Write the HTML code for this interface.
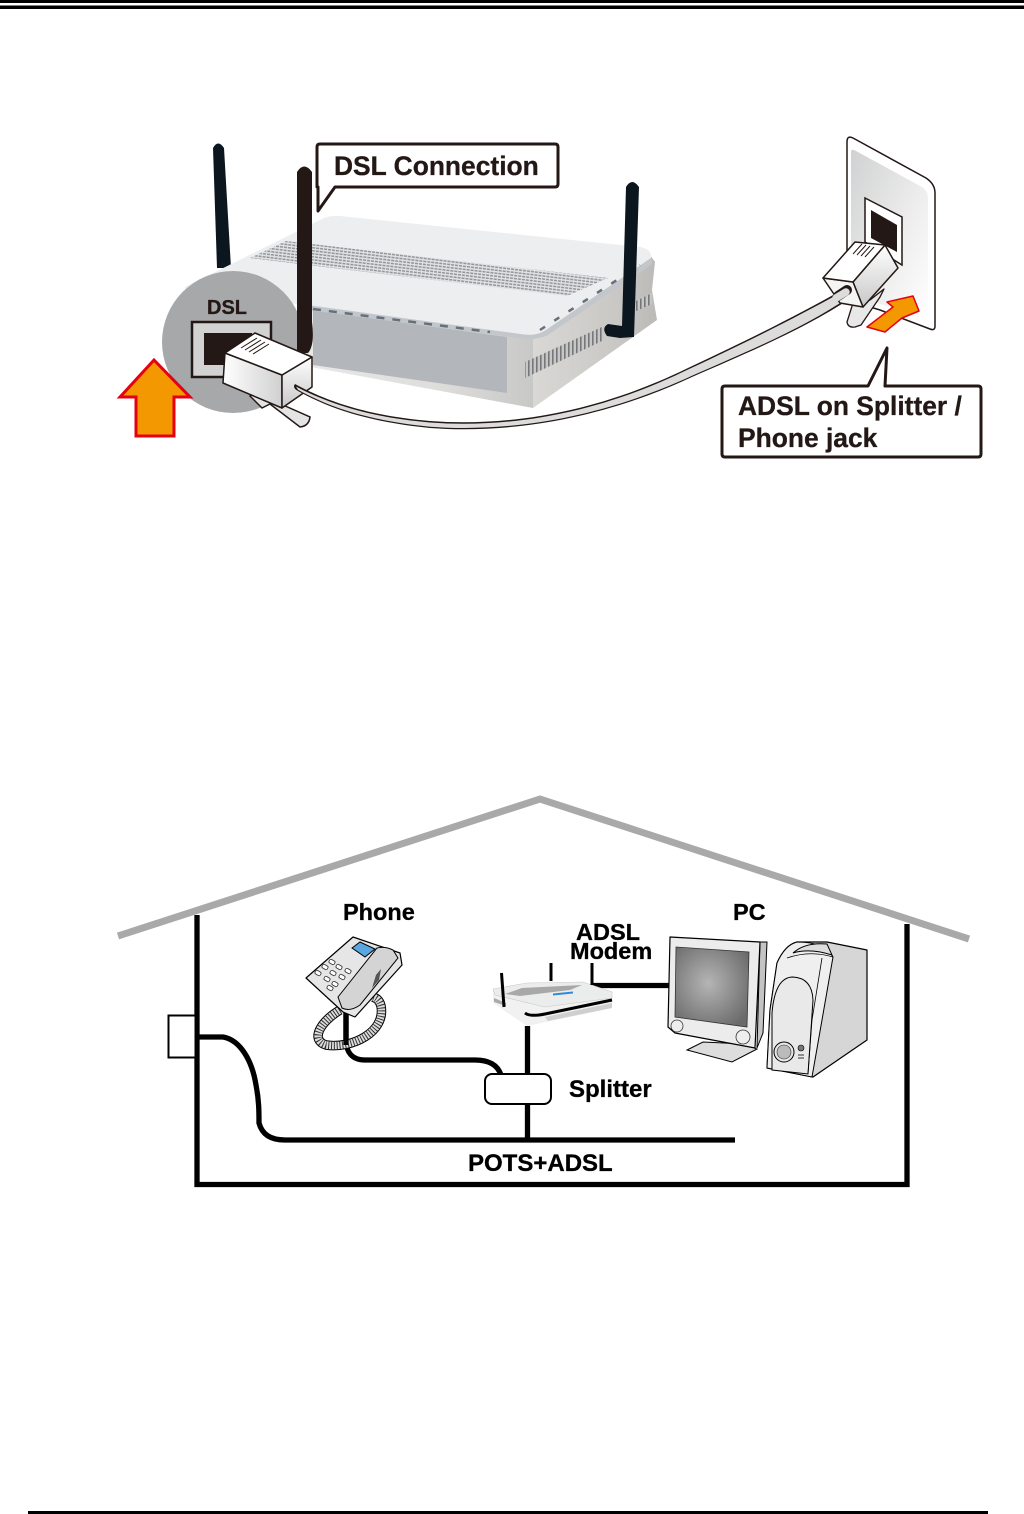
<!DOCTYPE html>
<html><head><meta charset="utf-8"><style>
html,body{margin:0;padding:0;background:#fff}
svg{display:block}
text{font-family:"Liberation Sans",Arial,sans-serif;font-weight:bold;stroke-width:.3}
</style></head><body>
<svg width="1024" height="1514" viewBox="0 0 1024 1514" xmlns="http://www.w3.org/2000/svg">
<defs>
<pattern id="hatch" width="4" height="3" patternUnits="userSpaceOnUse" patternTransform="rotate(7)">
<rect width="4" height="3" fill="#dfe1e3"/><rect x="0" y="0" width="3" height="1.500" fill="#94969a"/>
</pattern>
<pattern id="vent" width="4" height="10" patternUnits="userSpaceOnUse">
<rect width="4" height="10" fill="#c5c7c8"/><rect x="0" width="1.600" height="10" fill="#777"/>
</pattern>
<linearGradient id="side" x1="0" y1="0" x2="1" y2="0"><stop offset="0" stop-color="#d9d8d5"/><stop offset=".7" stop-color="#c9c7c4"/><stop offset="1" stop-color="#bcbab7"/></linearGradient>
<linearGradient id="low" x1="0" y1="0" x2="1" y2="0"><stop offset="0" stop-color="#e8e8e8"/><stop offset=".6" stop-color="#dedddc"/><stop offset="1" stop-color="#c8c8c6"/></linearGradient>
<linearGradient id="plate" x1="0" y1="0" x2="1" y2="1"><stop offset="0" stop-color="#d0d1d2"/><stop offset=".55" stop-color="#ececec"/><stop offset="1" stop-color="#fff"/></linearGradient>
<linearGradient id="pl" x1="0" y1="0" x2="1" y2="0"><stop offset="0" stop-color="#fff"/><stop offset="1" stop-color="#d0d0d0"/></linearGradient>
<linearGradient id="pr" x1="0" y1="0" x2="0" y2="1"><stop offset="0" stop-color="#fff"/><stop offset="1" stop-color="#c8c8c8"/></linearGradient>
<radialGradient id="scr" cx=".45" cy=".45" r=".65"><stop offset="0" stop-color="#b5b5b5"/><stop offset="1" stop-color="#6a6a6a"/></radialGradient>
</defs>

<!-- page rules -->
<rect x="0" y="0" width="1024" height="3" fill="#000"/>
<rect x="0" y="5.500" width="1024" height="3.500" fill="#000"/>
<rect x="28" y="1511" width="960" height="3" fill="#000"/>

<!-- back-left antenna -->
<path d="M213,148 Q218,139 224,148 L231,268 L217,268 Z" fill="#0c161e"/>

<!-- router body -->
<path d="M300,305 L533,335 L533,408 L300,365 Z" fill="url(#low)"/>
<path d="M533,335 L650,255 L655,262 L652,290 L657,320 L533,408 Z" fill="url(#side)"/>
<path d="M313,310 L507,337 L507,393 L313,365 Z" fill="#b3b7bc"/>
<path d="M185,287 L320,220 Q328,215 340,216 L640,247 Q652,249 651,258 L546,330 Q536,337 520,334 L313,306 L185,290 Z" fill="#eceef0"/>
<path d="M300,304 L520,334 Q536,337 546,330 L651,258 L652,264 L548,335 Q536,341 518,338 L300,309 Z" fill="#c3c7cb"/>
<path d="M250,258 L286,241 L608,278 L567,296 Z" fill="url(#hatch)"/>
<path d="M313,309 L490,332" stroke="#66707a" stroke-width="2.500" stroke-dasharray="8 8" fill="none"/>
<path d="M540,330 L640,265" stroke="#66707a" stroke-width="2.500" stroke-dasharray="6 11" fill="none"/>
<path d="M525,362 L604,326 L604,340 L525,378 Z" fill="url(#vent)"/>
<path d="M634,302 L652,293 L652,304 L634,312 Z" fill="url(#vent)"/>
<!-- right antenna -->
<path d="M626,187 Q632,177 639,187 L634,337 L620,338 L607,336 Q601,328 608,324 L622,326 Z" fill="#0c161e"/>

<!-- DSL magnifier -->
<circle cx="233" cy="342" r="71" fill="#a7a8aa"/>
<!-- centre antenna -->
<path d="M297,172 Q304,161 312,172 L312,322 Q315,345 308,353 L297,353 Z" fill="#231815"/>
<text x="207" y="314" font-size="20" fill="#231815" stroke="#231815">DSL</text>
<rect x="192" y="322" width="79" height="55" fill="#d2d2d2" stroke="#231815" stroke-width="2.500"/>
<rect x="204" y="333" width="48" height="32" fill="#231815"/>
<!-- plug -->
<path d="M250,396 L262,408 L270,404 L300,427 Q309,426 310,417 L283,405 L255,392 Z" fill="#e4e4e4" stroke="#231815" stroke-width="1.500"/>
<path d="M225,353 L282,375 L282,408 L223,383 Z" fill="url(#pl)" stroke="#231815" stroke-width="1.500" stroke-linejoin="round"/>
<path d="M282,375 L312,357 L312,387 L282,408 Z" fill="url(#pr)" stroke="#231815" stroke-width="1.500" stroke-linejoin="round"/>
<path d="M225,353 L255,333 L312,357 L282,375 Z" fill="#fff" stroke="#231815" stroke-width="1.500" stroke-linejoin="round"/>
<path d="M241,348 L257,338 M245,350 L261,340 M249,352 L265,342 M253,354 L269,344" stroke="#231815" stroke-width="1"/>

<!-- cable (tapered, wider towards the wall) -->
<path d="M295,384 C328,402 370,416 430,421 C510,427 598,412 688,368 C748,340 796,316 842,290 L851,298 C806,328 754,350 692,377 C602,419 510,434 430,428 C370,422 330,409 298,391 Q292,388 295,384 Z" fill="#231815"/>
<path d="M296,386.500 C328,403.500 370,417.500 430,422.500 C510,428.500 598,413.500 688,369.500 C748,341.500 796,317.500 843,291.500 L850,296.500 C806,326.700 754,348.700 692,375.700 C602,417.700 510,432.700 430,426.700 C370,420.700 330,407.700 298,389.700 Z" fill="#dcdcdc"/>

<!-- large arrow -->
<path d="M154,360 L120,397 L136,397 L136,436 L174,436 L174,397 L190,397 Z" fill="#f39800" stroke="#e60012" stroke-width="3"/>

<!-- wall plate -->
<path d="M847,142 Q847,135 853,138 L926,178 Q935,184 935,193 L935,326 Q935,331 930,329 L880,310 L847,300 Z" fill="#fff" stroke="#231815" stroke-width="1.500"/>
<path d="M851,152 Q851,148 856,151 L922,187 Q928,191 928,198 L928,320 L880,304 L851,292 Z" fill="url(#plate)"/>
<path d="M865,198 L902,217 L902,265 L865,242 Z" fill="#fff" stroke="#231815" stroke-width="1.500"/>
<path d="M871,210 L897,225 L897,252 L871,238 Z" fill="#231815"/>
<!-- plug 2 -->
<path d="M853,303 L847,322 Q848,328 855,327 L861,325 L880,297 L884,289 L870,300 Z" fill="#e8e8e8" stroke="#231815" stroke-width="1.300" stroke-linejoin="round"/>
<path d="M853,282 L885,245 L898,268 L863,307 Z" fill="url(#pr)" stroke="#231815" stroke-width="1.500" stroke-linejoin="round"/>
<path d="M823,278 L853,282 L863,307 L840,303 Z" fill="#f4f4f4" stroke="#231815" stroke-width="1.500" stroke-linejoin="round"/>
<path d="M823,278 L855,242 L885,245 L853,282 Z" fill="#fff" stroke="#231815" stroke-width="1.500" stroke-linejoin="round"/>
<path d="M853,254 L862,244 M857,255 L866,245 M861,256 L870,246 M865,257 L874,247" stroke="#231815" stroke-width="1"/>
<path d="M838,296 L847,290" stroke="#231815" stroke-width="10" stroke-linecap="round"/>
<path d="M836,298 L846,292" stroke="#dcdcdc" stroke-width="7.500" stroke-linecap="round"/>
<!-- small arrow -->
<path d="M867,327 L885,332 L902,318 L919,311 L913,296 L887,302 L893,307 Z" fill="#f39800" stroke="#e60012" stroke-width="1.500" stroke-linejoin="round"/>

<!-- callout DSL -->
<path d="M317,147 Q317,144 320,144 L555,144 Q558,144 558,147 L558,184 Q558,187 555,187 L335,187 L318,211 L318,187 L317,187 Z" fill="#fff" stroke="#231815" stroke-width="3" stroke-linejoin="round"/>
<text x="334" y="175" font-size="26.400" fill="#231815" stroke="#231815">DSL Connection</text>
<!-- callout ADSL -->
<path d="M725,386 L868,386 L887,348 L885,386 L978,386 Q981,386 981,389 L981,454 Q981,457 978,457 L725,457 Q722,457 722,454 L722,389 Q722,386 725,386 Z" fill="#fff" stroke="#231815" stroke-width="3" stroke-linejoin="round"/>
<text x="738" y="415" font-size="26.400" fill="#231815" stroke="#231815">ADSL on Splitter /</text>
<text x="738" y="447" font-size="26.400" fill="#231815" stroke="#231815">Phone jack</text>

<!-- house -->
<path d="M197,915 L197,1184.500 L907,1184.500 L907,924" fill="none" stroke="#000" stroke-width="5.300"/>
<path d="M118,936 L540,799 L969,939" fill="none" stroke="#a9a9a9" stroke-width="7"/>
<rect x="168.500" y="1015.500" width="27" height="42" fill="#fff" stroke="#000" stroke-width="2"/>
<path d="M199,1037 L223,1037 C240,1040 252,1060 256,1085 C259,1100 259,1112 259,1123 C262,1134 270,1140 285,1140 L735,1140" fill="none" stroke="#000" stroke-width="5.300"/>
<path d="M527.500,1026 L527.500,1140" fill="none" stroke="#000" stroke-width="5.300"/>
<path d="M346,1012 L346,1040 C346,1052 352,1060 365,1060 L475,1060 C490,1060 498,1066 501,1075" fill="none" stroke="#000" stroke-width="5.300"/>
<rect x="485" y="1074" width="66" height="30" rx="7" fill="#fff" stroke="#000" stroke-width="2"/>
<path d="M592,985.500 L669,985.500" stroke="#000" stroke-width="5.300"/>

<!-- labels -->
<text x="343" y="920" font-size="23.500" fill="#000" stroke="#000">Phone</text>
<text x="733" y="920" font-size="23.500" fill="#000" stroke="#000">PC</text>
<text x="576" y="940" font-size="23.500" fill="#000" stroke="#000">ADSL</text>
<text x="570" y="959" font-size="23.500" fill="#000" stroke="#000">Modem</text>
<text x="569" y="1097" font-size="24" fill="#000" stroke="#000">Splitter</text>
<text x="468" y="1171" font-size="24" fill="#000" stroke="#000">POTS+ADSL</text>

<!-- small router -->
<path d="M493,1003 L527,1026 L612,1008 L612,992 L493,989 Z" fill="#f1f1f1"/>
<path d="M493,989 L527,983 L583,982 L612,992 L612,998 L545,1007 L495,995 Z" fill="#ebecec" stroke="#c8c8c8" stroke-width=".6"/>
<path d="M505,994 L522,988 L582,985 L570,990 L520,996 Z" fill="#a8a8a8"/>
<path d="M553,993.500 L573,991.500 L573,993.500 L553,995.500 Z" fill="#2f8ad8"/>
<path d="M525,1013 Q530,1017 545,1014 L612,1000" fill="none" stroke="#000" stroke-width="3"/>
<path d="M545,1017 L612,1003 L612,1008 L548,1021 Z" fill="#cfcfcf"/>
<path d="M494,998 L506,1003 L506,1006 L494,1002 Z" fill="#aaa"/>
<path d="M501.500,973 L504,1007" stroke="#000" stroke-width="3"/>
<path d="M551,963 L551,981" stroke="#000" stroke-width="3"/>
<path d="M592,963 L592,985" stroke="#000" stroke-width="3"/>

<!-- phone -->
<path d="M340,1010 C320,1022 310,1040 326,1045 C352,1049 386,1032 381,1006 Q379,998 372,997" fill="none" stroke="#000" stroke-width="9.500"/>
<path d="M340,1010 C320,1022 310,1040 326,1045 C352,1049 386,1032 381,1006 Q379,998 372,997" fill="none" stroke="#ddd" stroke-width="7.500"/>
<path d="M340,1010 C320,1022 310,1040 326,1045 C352,1049 386,1032 381,1006 Q379,998 372,997" fill="none" stroke="#333" stroke-width="7.500" stroke-dasharray="1 1.800"/>
<path d="M346,1012 L346,1045" stroke="#000" stroke-width="5.300"/>
<path d="M306,978 L353,937 L400,953 L402,965 L355,1017 L343,1012 Z" fill="#e6e6e6" stroke="#000" stroke-width="1.200" stroke-linejoin="round"/>
<path d="M338,997 L377,948 Q385,946 393,950 L398,958 L360,1005 Q350,1012 342,1008 Z" fill="#d4d4d4" stroke="#000" stroke-width="1"/>
<path d="M352,948 L360,942 L375,949 L365,957 Z" fill="#5aa7e0" stroke="#000" stroke-width="1"/>
<path d="M376,975 L381,969 L379,980 L372,988 Z" fill="#555"/>
<g fill="#fff" stroke="#333" stroke-width=".8">
<rect x="329" y="960" width="6" height="4" rx="1.500" transform="rotate(30 332 962)"/>
<rect x="336" y="965" width="6" height="4" rx="1.500" transform="rotate(30 339 967)"/>
<rect x="345" y="969" width="6" height="4" rx="1.500" transform="rotate(30 348 971)"/>
<rect x="322" y="965" width="6" height="4" rx="1.500" transform="rotate(30 325 967)"/>
<rect x="330" y="971" width="6" height="4" rx="1.500" transform="rotate(30 333 973)"/>
<rect x="339" y="975" width="6" height="4" rx="1.500" transform="rotate(30 342 977)"/>
<rect x="315" y="971" width="6" height="4" rx="1.500" transform="rotate(30 318 973)"/>
<rect x="324" y="977" width="6" height="4" rx="1.500" transform="rotate(30 327 979)"/>
<rect x="332" y="982" width="6" height="4" rx="1.500" transform="rotate(30 335 984)"/>
<rect x="327" y="986" width="6" height="4" rx="1.500" transform="rotate(30 330 988)"/>
</g>

<!-- monitor -->
<path d="M760,942 L767,942 L763,1033 L757,1048 Z" fill="#c4c4c4" stroke="#000" stroke-width="1"/>
<path d="M687,1050 L703,1042 L745,1044 L757,1049 L732,1062 Z" fill="#ddd" stroke="#000" stroke-width="1"/>
<path d="M670,937 L760,942 L755,1048 L675,1033 L668,1027 Z" fill="#ececec" stroke="#000" stroke-width="1.200" stroke-linejoin="round"/>
<path d="M676,947 L749,952 L747,1027 L675,1017 Z" fill="url(#scr)" stroke="#333" stroke-width=".8"/>
<circle cx="677" cy="1026" r="6" fill="#eee" stroke="#333" stroke-width=".8"/>
<circle cx="743" cy="1037" r="7" fill="#eee" stroke="#333" stroke-width=".8"/>

<!-- tower -->
<path d="M767,1068 L770,1010 L777,963 Q785,945 797,942 L827,942 L867,950 L867,1040 L813,1077 Z" fill="#d6d6d6" stroke="#000" stroke-width="1.200" stroke-linejoin="round"/>
<path d="M767,1068 L770,1010 L777,963 Q785,945 797,942 Q825,942 833,957 L822,1020 L812,1077 Z" fill="#efefef" stroke="#000" stroke-width="1"/>
<path d="M772,1070 L772,1013 Q775,977 793,977 Q812,978 813,1000 L808,1074 Z" fill="#e9e9e9" stroke="#000" stroke-width="1"/>
<path d="M787,958 Q810,950 833,957 M822,958 L812,1020 L808,1074" fill="none" stroke="#000" stroke-width=".8"/>
<path d="M793,953 Q805,942 827,944 L832,955 Q810,948 793,953 Z" fill="#ddd" stroke="#000" stroke-width="1"/>
<circle cx="784" cy="1052" r="10" fill="#e6e6e6" stroke="#000" stroke-width="1"/>
<circle cx="784" cy="1052" r="7" fill="#bbb" stroke="#333" stroke-width=".6"/>
<circle cx="801" cy="1048" r="3" fill="#777" stroke="#000" stroke-width=".6"/>
<path d="M798,1055 L804,1055 M798,1058 L804,1058" stroke="#333" stroke-width="1"/>
</svg>
</body></html>
